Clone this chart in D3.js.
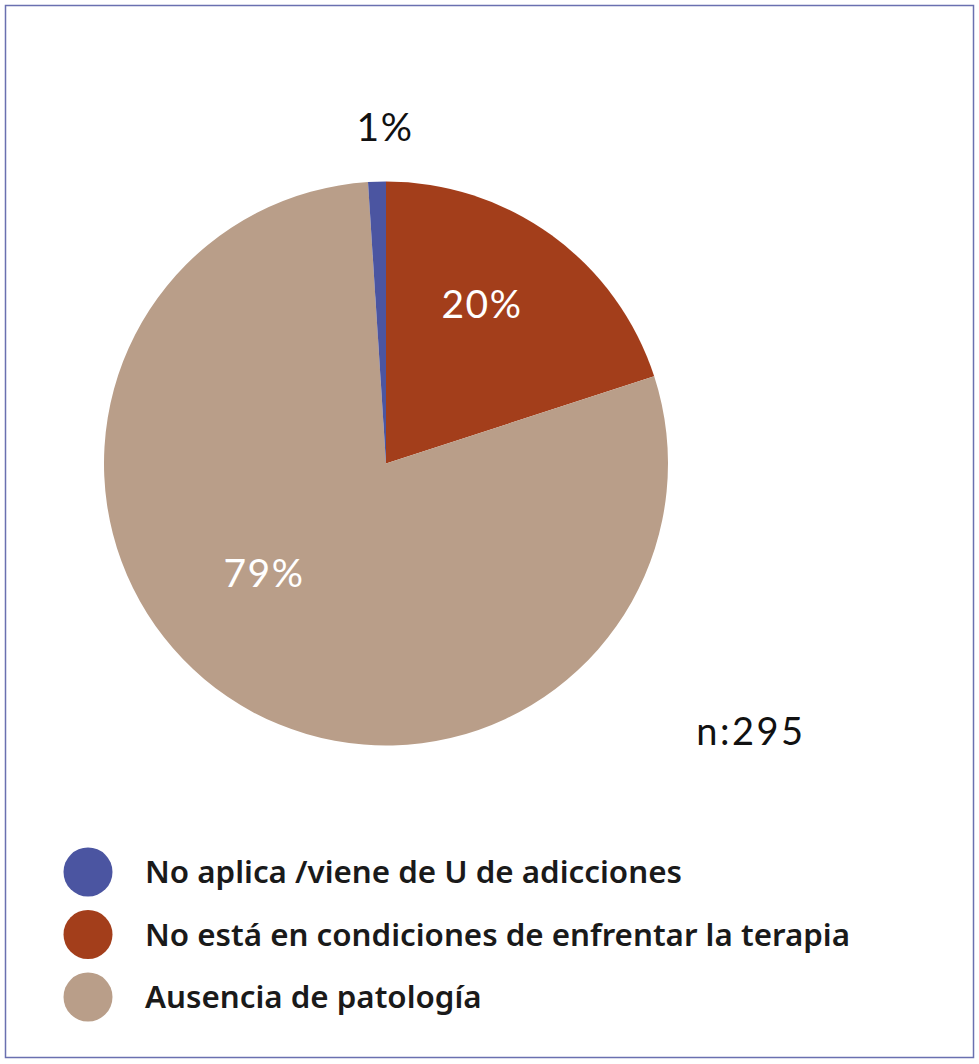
<!DOCTYPE html>
<html>
<head>
<meta charset="utf-8">
<script src="https://cdn.jsdelivr.net/npm/d3@7"></script>
<style>
  html, body { margin: 0; padding: 0; background: #fff; }
  svg { display: block; }
</style>
</head>
<body>
<svg id="chart" width="979" height="1064"></svg>
<script>
// data
var categories = ["No aplica /viene de U de adicciones", "No está en condiciones de enfrentar la terapia", "Ausencia de patología"]
var counts = [3, 59, 233]
var pctLabels = ["1%", "20%", "79%"]
var colors = ["#4b55a1", "#a33e1b", "#b99e89"]
var sampleLabel = "n:295"

var svg = d3.select("#chart")

// frame
svg.append("rect")
  .attr("x", 5.5).attr("y", 5.5)
  .attr("width", 968).attr("height", 1052)
  .attr("fill", "none")
  .attr("stroke", "#6a70b0")
  .attr("stroke-width", 1.5)

var cx = 386, cy = 463.5, r = 282

// pie: red starts at 12 o'clock, blue ends there
var order = [1, 2, 0]
var data = order.map(i => ({i: i, v: counts[i]}))
var pie = d3.pie().sort(null).value(d => d.v)
var arcs = pie(data)
var arc = d3.arc().innerRadius(0).outerRadius(r)

var g = svg.append("g").attr("transform", "translate(" + cx + "," + cy + ")")
g.selectAll("path").data(arcs).enter().append("path")
  .attr("d", arc)
  .attr("fill", d => colors[d.data.i])

// slice labels
var labelPos = {
  0: [385, 141, "#111"],
  1: [482, 318, "#fff"],
  2: [264, 587, "#fff"]
}
svg.selectAll("text.pct").data(arcs).enter().append("text")
  .attr("class", "pct")
  .attr("x", d => labelPos[d.data.i][0])
  .attr("y", d => labelPos[d.data.i][1])
  .attr("text-anchor", "middle")
  .attr("font-family", "Lato, 'Noto Sans', sans-serif")
  .attr("font-size", 39)
  .attr("letter-spacing", 1.5)
  .attr("fill", d => labelPos[d.data.i][2])
  .text(d => pctLabels[d.data.i])

svg.append("text")
  .attr("x", 751).attr("y", 745)
  .attr("text-anchor", "middle")
  .attr("font-family", "Lato, 'Noto Sans', sans-serif")
  .attr("font-size", 38)
  .attr("letter-spacing", 2.5)
  .attr("fill", "#111")
  .text(sampleLabel)

// legend
var legend = svg.append("g")
var rows = legend.selectAll("g").data(categories).enter().append("g")
  .attr("transform", (d, i) => "translate(88," + (872 + i * 62.5) + ")")
rows.append("circle").attr("r", 24.5).attr("fill", (d, i) => colors[i])
rows.append("text")
  .attr("x", 57).attr("y", 0)
  .attr("dy", "0.36em")
  .attr("font-family", "'Noto Sans', sans-serif")
  .attr("font-weight", 600)
  .attr("font-size", 31.3)
  .attr("fill", "#1a1a1a")
  .text(d => d)
</script>
</body>
</html>
